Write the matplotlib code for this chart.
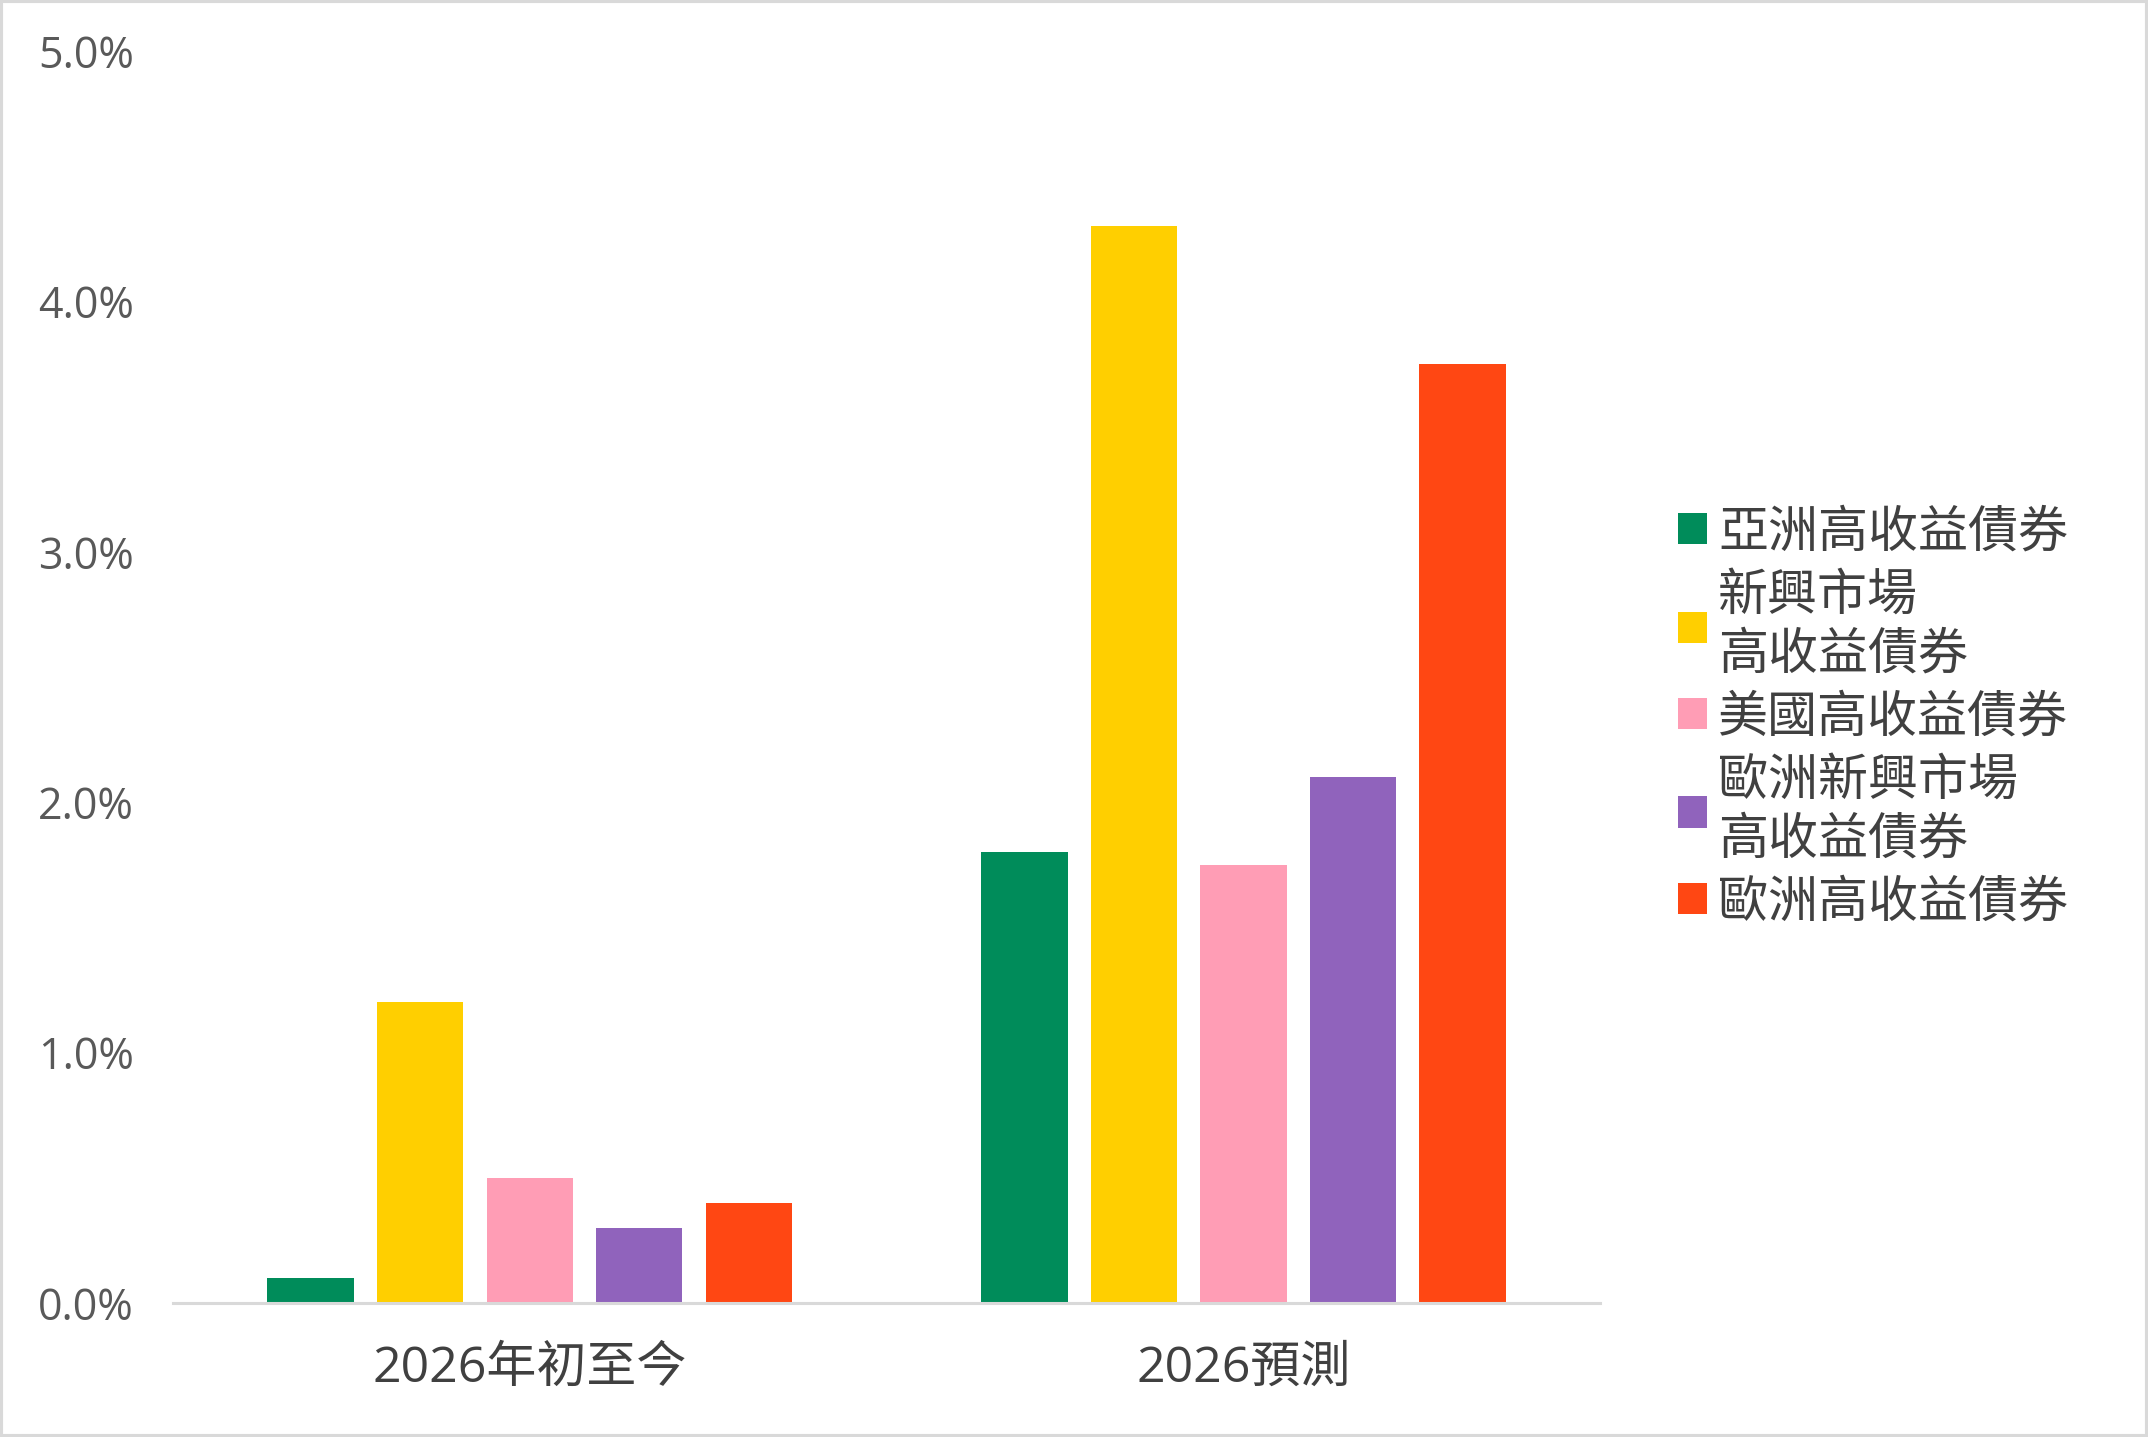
import matplotlib
matplotlib.use("Agg")
import matplotlib.pyplot as plt
import numpy as np
from matplotlib.patches import Rectangle
from matplotlib.ticker import FuncFormatter

plt.rcParams['font.family'] = ['Open Sans', 'Noto Sans CJK TC', 'DejaVu Sans']

CATEGORIES = ['2026年初至今', '2026預測']
SERIES = ['亞洲高收益債券', '新興市場\n高收益債券', '美國高收益債券',
          '歐洲新興市場\n高收益債券', '歐洲高收益債券']
VALUES = [
    [0.1, 1.8],
    [1.2, 4.3],
    [0.5, 1.75],
    [0.3, 2.1],
    [0.4, 3.75],
]
COLORS = ['#008C5A', '#FFCF00', '#FF9DB5', '#9063BC', '#FF4713']

FIG = plt.figure(figsize=(10.74, 7.185), dpi=200)
AX = FIG.add_axes([0.0805, 0.0933, 0.6645, 0.8712])

X = np.arange(len(CATEGORIES))
STEP = 0.1535
WIDTH = 0.121
for i, (name, vals, col) in enumerate(zip(SERIES, VALUES, COLORS)):
    AX.bar(X + (i - 2) * STEP, vals, WIDTH, color=col, label=name)

AX.set_xlim(-0.5, 1.5)
AX.set_ylim(0, 5)
AX.set_yticks(np.arange(0, 5.01, 1))
AX.yaxis.set_major_formatter(FuncFormatter(lambda v, p: f'{v:.1f}%'))
AX.set_xticks(X)
AX.set_xticklabels(CATEGORIES)
for s in ['top', 'right', 'left']:
    AX.spines[s].set_visible(False)
AX.spines['bottom'].set_color('#D9D9D9')
AX.spines['bottom'].set_linewidth(1.1)
AX.tick_params(axis='y', length=0, pad=14, labelsize=15.5, labelcolor='#595959')
AX.tick_params(axis='x', length=0, pad=15, labelsize=18, labelcolor='#404040')

LEG = FIG.legend(loc='center left', bbox_to_anchor=(0.7695, 0.50),
                 frameon=False, fontsize=18, labelcolor='#404040',
                 handlelength=0.58, handleheight=0.58, handletextpad=0.22,
                 labelspacing=0.27, borderpad=0)
for t in LEG.get_texts():
    t.set_linespacing(1.25)

FIG.patches.append(Rectangle((0, 0), 1, 1, transform=FIG.transFigure,
                             fill=False, edgecolor='#D9D9D9', linewidth=2.2))

FIG.savefig('out.png', dpi=200)
